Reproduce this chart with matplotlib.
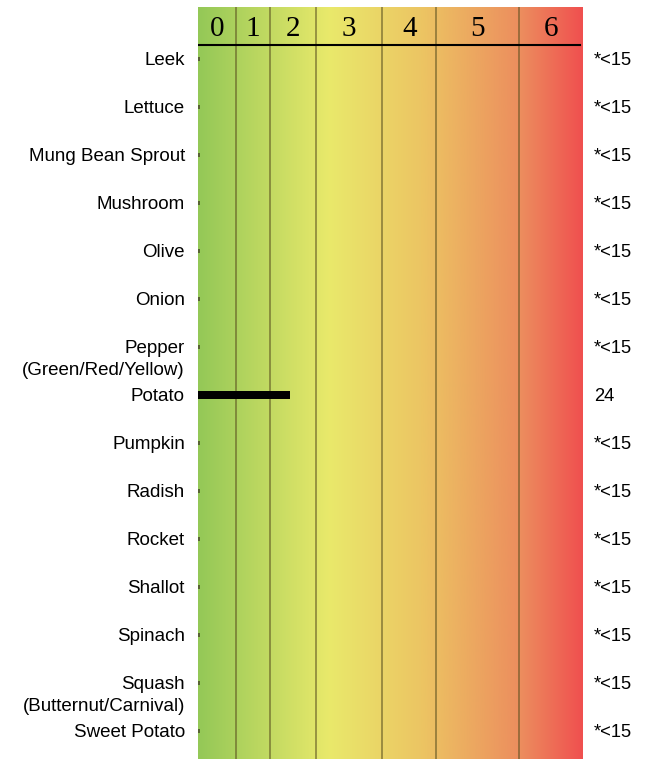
import matplotlib
matplotlib.use('Agg')
import matplotlib.pyplot as plt
import numpy as np
from matplotlib.colors import LinearSegmentedColormap

# Rows, top to bottom
foods = ['Leek', 'Lettuce', 'Mung Bean Sprout', 'Mushroom', 'Olive', 'Onion',
         'Pepper\n(Green/Red/Yellow)', 'Potato', 'Pumpkin', 'Radish', 'Rocket',
         'Shallot', 'Spinach', 'Squash\n(Butternut/Carnival)', 'Sweet Potato']
bar_values = [0.5, 0.5, 0.5, 0.5, 0.5, 0.5, 0.5, 24, 0.5, 0.5, 0.5, 0.5, 0.5, 0.5, 0.5]
value_labels = ['*<15'] * 7 + ['24'] + ['*<15'] * 7

# band scale (same units as the bars)
band_edges = [0, 9.8, 18.7, 30.7, 47.9, 61.9, 83.4, 100]
band_labels = ['0', '1', '2', '3', '4', '5', '6']

fig = plt.figure(figsize=(6.48, 7.59), dpi=100)
ax = fig.add_axes([198 / 648, 0, 385 / 648, 1 - 7 / 759])

n = len(foods)
ax.set_xlim(0, 100)
ax.set_ylim(14.583, -1.083)

# green -> yellow -> orange -> red background
cmap = LinearSegmentedColormap.from_list('band', [
    (0.0, '#94c857'), (0.34, '#e9e96b'), (0.58, '#ecc563'),
    (0.84, '#ec8d5e'), (1.0, '#f0504f')])
grad = np.linspace(0, 1, 512).reshape(1, -1)
ax.imshow(grad, cmap=cmap, aspect='auto', extent=[0, 100, 14.583, -1.083], zorder=0)

for x in band_edges[1:-1]:
    ax.axvline(x, color='#5a5020', alpha=0.55, lw=1.4, zorder=1)

ax.plot([0, 99.2], [-0.29, -0.29], color='black', lw=1.5, zorder=2)
for i, lab in enumerate(band_labels):
    cx = (band_edges[i] + band_edges[i + 1]) / 2
    ax.text(cx, -0.62, lab, ha='center', va='center', fontsize=21,
            family='Liberation Serif', zorder=3)

y = np.arange(n)
for i, v in enumerate(bar_values):
    if v > 1:
        ax.barh(y[i], v, height=0.17, color='black', zorder=3)
    else:
        ax.barh(y[i], v, height=0.1, color='#4a4a2a', alpha=0.8, zorder=3)

# label text sits a hair below the row centre in the original
dy = 0.04
for i, name in enumerate(foods):
    lines = name.split('\n')
    for k, ln in enumerate(lines):
        ax.text(-3.4, y[i] + dy + k * 0.44, ln, ha='right', va='center', fontsize=13.5,
                family='Liberation Sans', clip_on=False)
    ax.text(102.8, y[i] + dy, value_labels[i], ha='left', va='center', fontsize=13.2,
            family='Liberation Sans', clip_on=False)

ax.axis('off')
fig.savefig('out.png', dpi=100)
plt.close(fig)
